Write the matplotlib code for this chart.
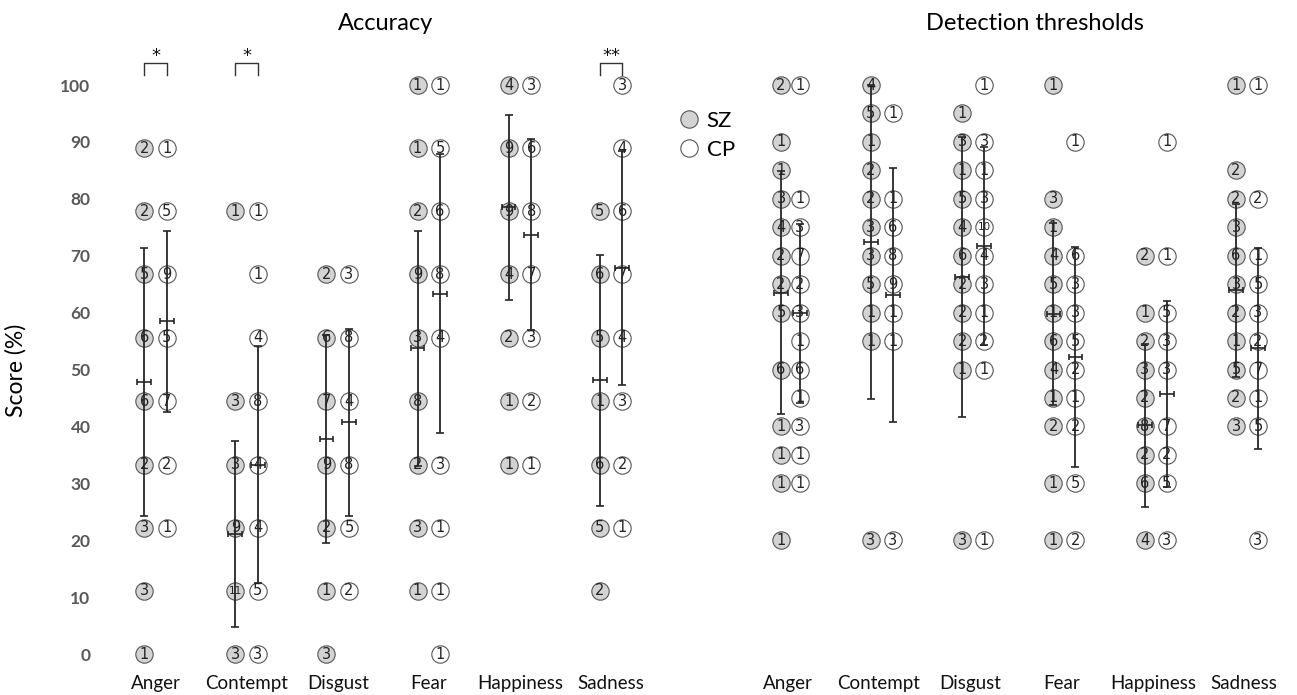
import numpy as np
import matplotlib.pyplot as plt
from matplotlib.lines import Line2D

plt.rcParams['font.family'] = ['Lato', 'DejaVu Sans']

emotions = ['Anger', 'Contempt', 'Disgust', 'Fear', 'Happiness', 'Sadness']

# accuracy: score levels and number of participants at each level
acc_levels = [100, 88.9, 77.8, 66.7, 55.6, 44.4, 33.3, 22.2, 11.1, 0]
acc_sz = [
    [0, 2, 2, 5, 6, 6, 2, 3, 3, 1],
    [0, 0, 1, 0, 0, 3, 3, 9, 11, 3],
    [0, 0, 0, 2, 6, 7, 9, 2, 1, 3],
    [1, 1, 2, 9, 3, 8, 2, 3, 1, 0],
    [4, 9, 9, 4, 2, 1, 1, 0, 0, 0],
    [0, 0, 5, 6, 5, 1, 6, 5, 2, 0],
]
acc_cp = [
    [0, 1, 5, 9, 5, 7, 2, 1, 0, 0],
    [0, 0, 1, 1, 4, 8, 4, 4, 5, 3],
    [0, 0, 0, 3, 8, 4, 8, 5, 2, 0],
    [1, 5, 6, 8, 4, 0, 3, 1, 1, 1],
    [3, 6, 8, 7, 3, 2, 1, 0, 0, 0],
    [3, 4, 6, 7, 4, 3, 2, 1, 0, 0],
]
acc_sz_mean = [47.8, 21.1, 37.8, 53.7, 78.5, 48.1]
acc_sz_sd = [23.6, 16.3, 18.2, 20.6, 16.2, 22.1]
acc_cp_mean = [58.5, 33.3, 40.7, 63.3, 73.7, 67.8]
acc_cp_sd = [15.9, 20.8, 16.4, 24.5, 16.8, 20.6]

# detection thresholds
dt_levels = [100, 95, 90, 85, 80, 75, 70, 65, 60, 55, 50, 45, 40, 35, 30, 25, 20]
dt_sz = [
    [2, 0, 1, 1, 3, 4, 2, 2, 5, 0, 6, 0, 1, 1, 1, 0, 1],
    [4, 5, 1, 2, 2, 3, 3, 5, 1, 1, 0, 0, 0, 0, 0, 0, 3],
    [0, 1, 3, 1, 5, 4, 6, 2, 2, 2, 1, 0, 0, 0, 0, 0, 3],
    [1, 0, 0, 0, 3, 1, 4, 5, 1, 6, 4, 1, 2, 0, 1, 0, 1],
    [0, 0, 0, 0, 0, 0, 2, 0, 1, 2, 3, 2, 8, 2, 6, 0, 4],
    [1, 0, 0, 2, 2, 3, 6, 3, 2, 1, 5, 2, 3, 0, 0, 0, 0],
]
dt_cp = [
    [1, 0, 0, 0, 1, 3, 7, 2, 3, 1, 6, 1, 3, 1, 1, 0, 0],
    [0, 1, 0, 0, 1, 6, 8, 9, 1, 1, 0, 0, 0, 0, 0, 0, 3],
    [1, 0, 3, 1, 3, 10, 4, 3, 1, 2, 1, 0, 0, 0, 0, 0, 1],
    [0, 0, 1, 0, 0, 0, 6, 3, 3, 5, 2, 1, 2, 0, 5, 0, 2],
    [0, 0, 1, 0, 0, 0, 1, 0, 5, 3, 3, 0, 7, 2, 5, 0, 3],
    [1, 0, 0, 0, 2, 0, 1, 5, 3, 2, 7, 1, 5, 0, 0, 0, 3],
]
dt_sz_mean = [63.5, 72.4, 66.2, 59.8, 40.2, 63.9]
dt_sz_sd = [21.4, 27.6, 24.6, 16.0, 14.3, 15.2]
dt_cp_mean = [59.9, 63.1, 71.7, 52.2, 45.7, 53.7]
dt_cp_sd = [15.7, 22.4, 17.4, 19.3, 16.3, 17.7]

sig_idx = [0, 1, 5]
sig_text = ['*', '*', '**']

SZ_FILL = '#d3d3d3'
LINE_C = '#262626'


def draw_panel(ax, levels, sz, cp, szm, szs, cpm, cps, offs):
    for i in range(len(emotions)):
        groups = [(sz[i], SZ_FILL, -offs[i], szm[i], szs[i]),
                  (cp[i], 'white', offs[i], cpm[i], cps[i])]
        for counts, fill, dx, m, s in groups:
            x = i + dx
            for lv, n in zip(levels, counts):
                if n == 0:
                    continue
                ax.plot(x, lv, 'o', ms=12.5, mfc=fill, mec='#555555', mew=0.8,
                        zorder=2, clip_on=False)
                ax.text(x, lv, str(n), ha='center', va='center', zorder=3,
                        fontsize=10.5 if n < 10 else 7.5, family='DejaVu Sans',
                        color='#222222')
            # SD line
            ax.errorbar(x, m, yerr=s, fmt='none', ecolor=LINE_C, elinewidth=1.3,
                        capsize=3, capthick=1.2, zorder=4)
            # mean mark
            ax.errorbar(x, m, xerr=0.075, fmt='none', ecolor=LINE_C, elinewidth=1.2,
                        capsize=2.5, capthick=1.2, zorder=4)
    ax.set_xlim(-0.5, 5.5)
    ax.set_ylim(-5, 110)
    for sp in ax.spines.values():
        sp.set_visible(False)
    ax.set_xticks([])


fig = plt.figure(figsize=(12.97, 6.95), dpi=100)
H = 695.0
W = 1297.0
ax1 = fig.add_axes([109.95 / W, (H - 682.5) / H, 546.6 / W, 654.4 / H])
ax2 = fig.add_axes([744.85 / W, (H - 682.5) / H, 547.8 / W, 654.4 / H])

left_offs = [0.124] * 6
right_offs = [0.104, 0.12, 0.12, 0.12, 0.12, 0.12]

draw_panel(ax1, acc_levels, acc_sz, acc_cp, acc_sz_mean, acc_sz_sd,
           acc_cp_mean, acc_cp_sd, left_offs)
draw_panel(ax2, dt_levels, dt_sz, dt_cp, dt_sz_mean, dt_sz_sd,
           dt_cp_mean, dt_cp_sd, right_offs)

ax1.set_yticks(np.arange(0, 101, 10))
ax1.tick_params(axis='y', length=0, pad=14, labelsize=12.5, labelcolor='#595959')
for lab in ax1.get_yticklabels():
    lab.set_fontweight('bold')
ax2.set_yticks([])

for ax, shift in [(ax1, 0.0), (ax2, -0.03)]:
    for i, name in enumerate(emotions):
        ax.text(i + shift, -5.2, name, ha='center', va='center', fontsize=13.5,
                color='#111111', clip_on=False)

# significance brackets
for i, t in zip(sig_idx, sig_text):
    x0, x1 = i - left_offs[i], i + left_offs[i]
    ax1.plot([x0, x0, x1, x1], [101.8, 103.9, 103.9, 101.8], color='#333333',
             lw=1.0, clip_on=False)
    ax1.text(i, 103.5, t, ha='center', va='bottom', fontsize=13,
             family='DejaVu Sans', color='#111111')

fig.text(386 / W, 1 - 23 / H, 'Accuracy', ha='center', va='center', fontsize=17)
fig.text(1035 / W, 1 - 23 / H, 'Detection thresholds', ha='center', va='center',
         fontsize=17)
fig.text(16 / W, 1 - 370 / H, 'Score (%)', ha='center', va='center', rotation=90,
         fontsize=16.5)

handles = [Line2D([], [], ls='none', marker='o', ms=12.5, mfc=SZ_FILL, mec='#555555', mew=0.8),
           Line2D([], [], ls='none', marker='o', ms=12.5, mfc='white', mec='#555555', mew=0.8)]
fig.legend(handles, ['SZ', 'CP'], loc='upper left', bbox_to_anchor=(680 / W, 1 - 111 / H),
           frameon=False, fontsize=16, handlelength=0.8, handletextpad=0.4,
           labelspacing=0.4, borderpad=0, borderaxespad=0)

fig.savefig('out.png', dpi=100)
